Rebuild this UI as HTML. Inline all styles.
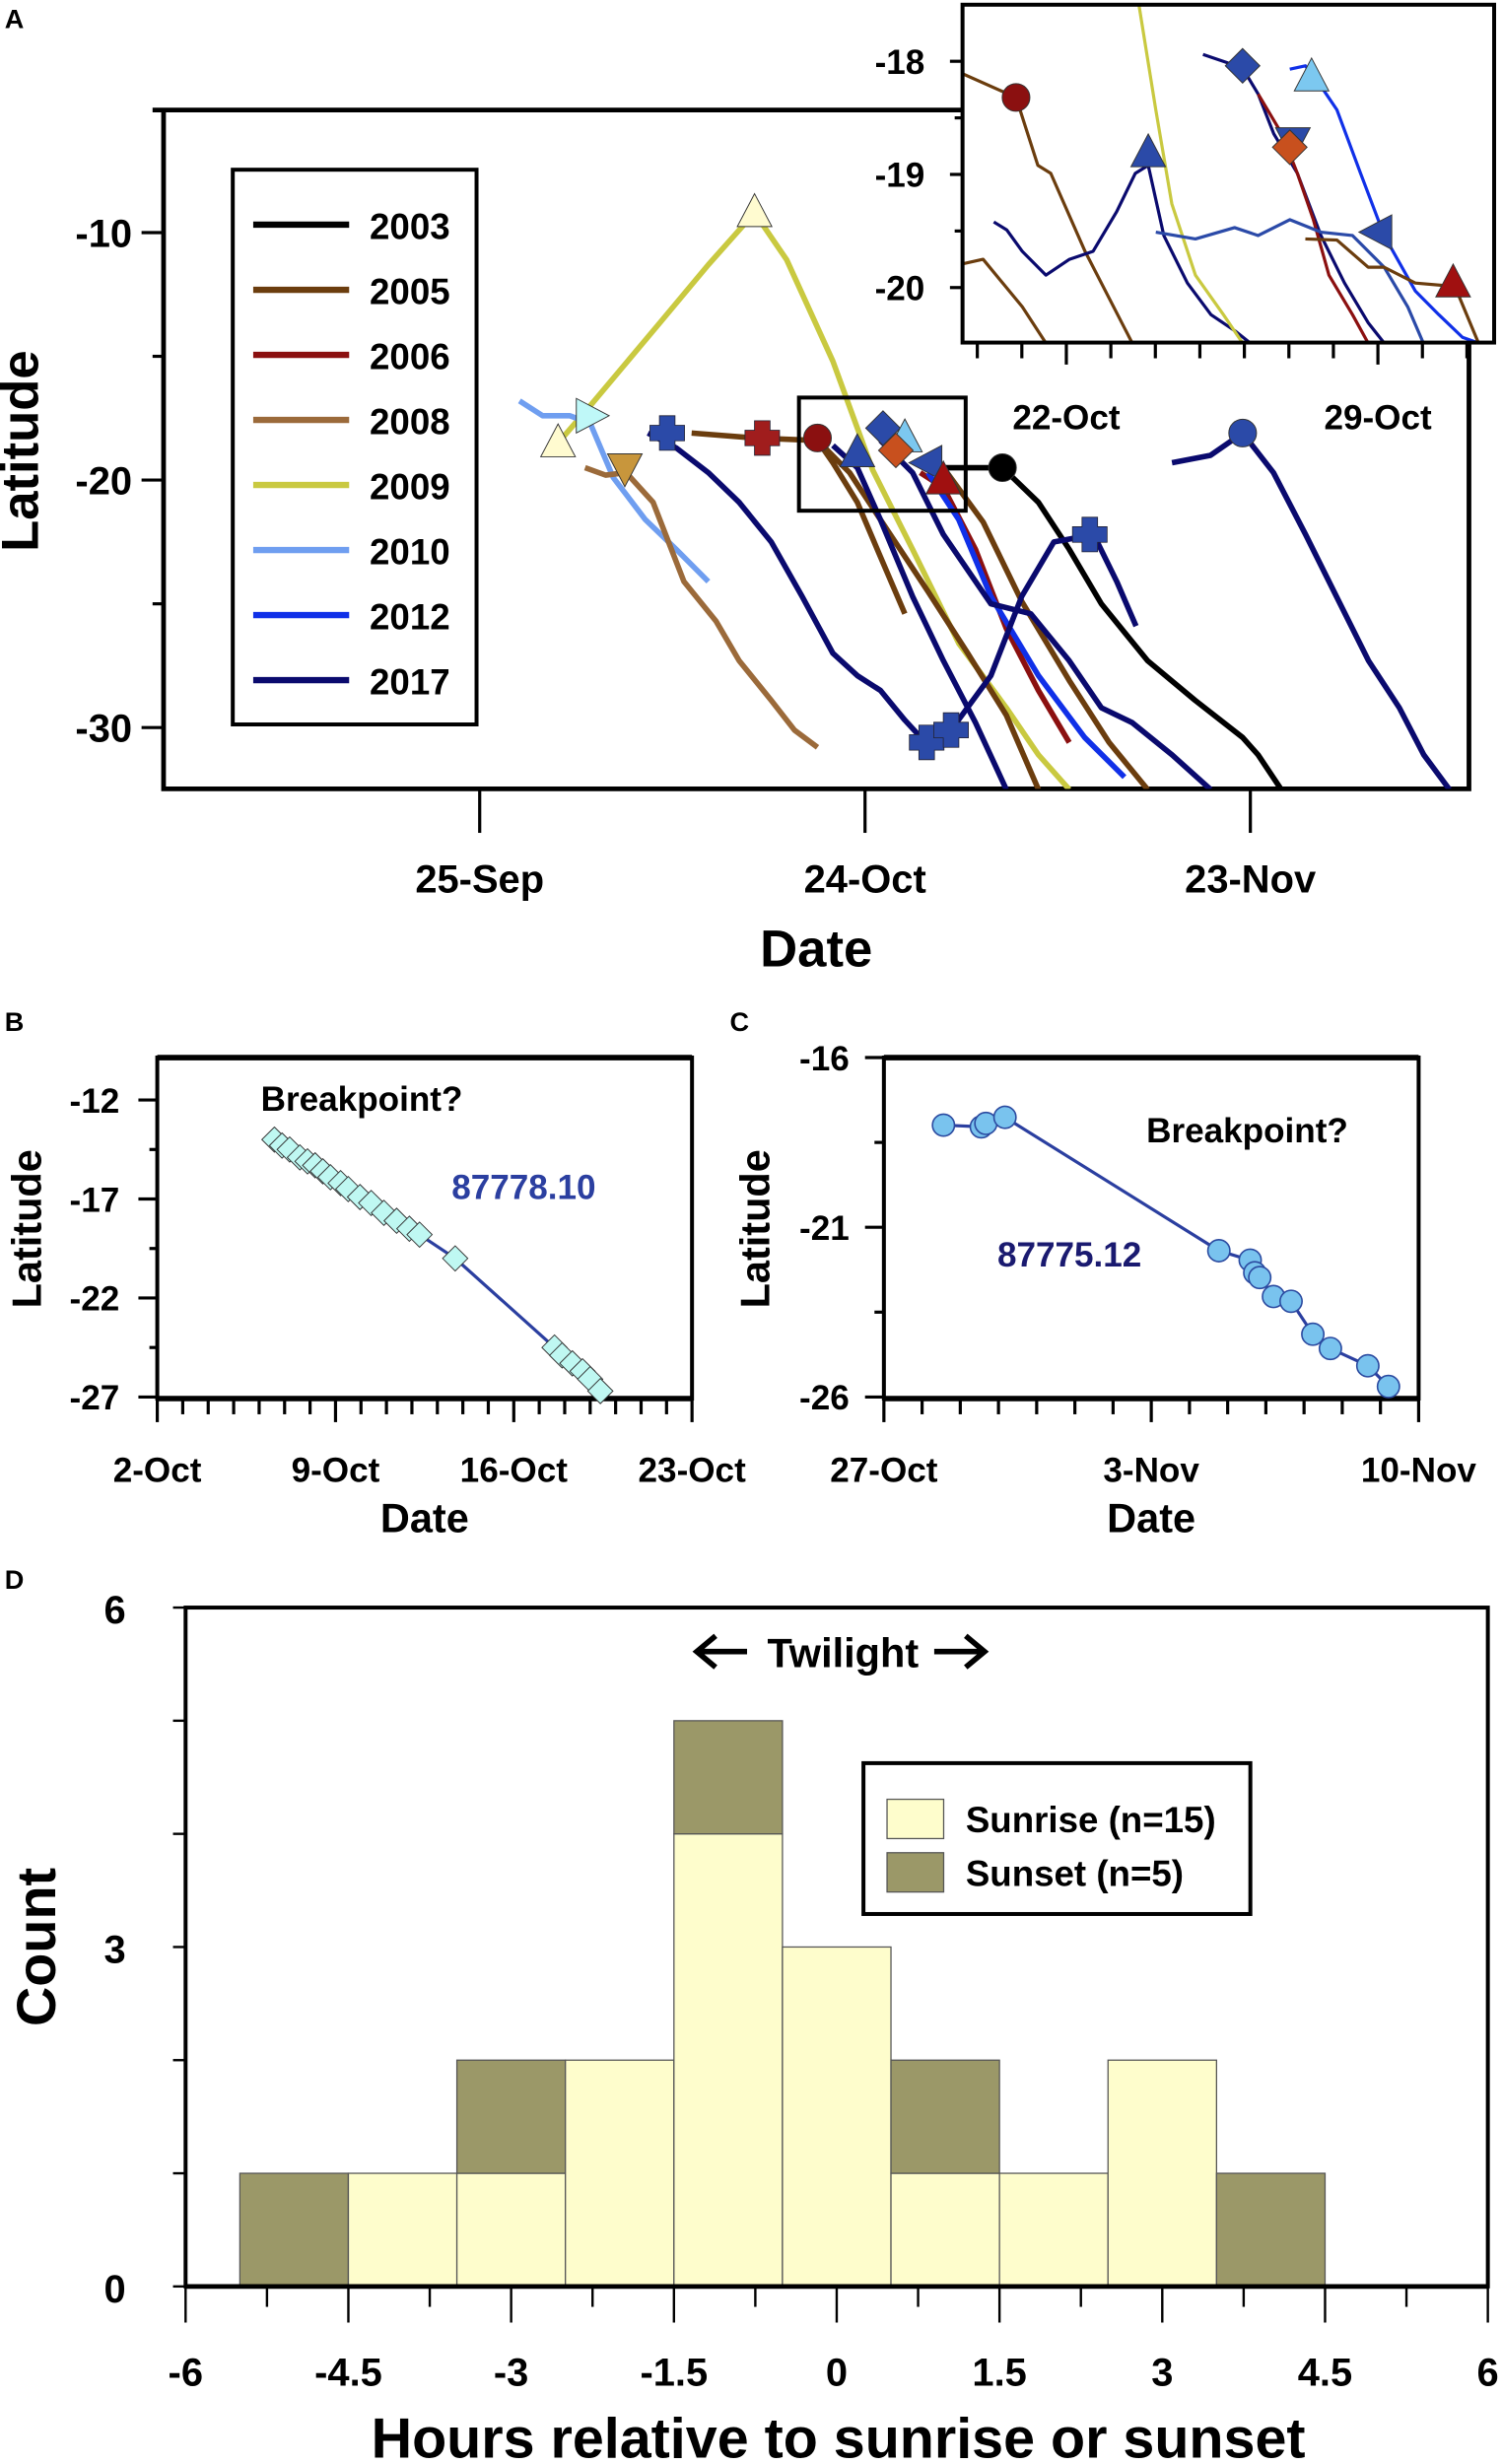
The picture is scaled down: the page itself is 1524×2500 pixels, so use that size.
<!DOCTYPE html>
<html><head><meta charset="utf-8"><style>
html,body{margin:0;padding:0;background:#fff}
svg{display:block}
text{font-family:"Liberation Sans",sans-serif;font-weight:bold;fill:#000}
</style></head><body>
<svg id="s" xmlns="http://www.w3.org/2000/svg" width="1524" height="2500" viewBox="0 0 955 1568" preserveAspectRatio="none">
<defs>
<clipPath id="cpA"><rect x="104" y="70" width="830" height="432"/></clipPath>
<clipPath id="cpI"><rect x="612" y="3" width="338" height="215"/></clipPath>
</defs>
<g id="A"></g>
<g id="B"></g>
<g id="C"></g>
<g id="D"></g>
</svg>
<script>
// ---------- Panel A data (day since 25-Sep, latitude) ----------
const yearNames=["2003","2005","2006","2008","2009","2010","2012","2017"];
const yearColors=["#000000","#6b3d0e","#8b1010","#9b6a3a","#c9c940","#6f9ef0","#1030e8","#0a0a6e"];
const mainTracks=[
 {y:"2009",pts:[[6.1,-18.5],[8.6,-17.0],[14.1,-13.6],[17.8,-11.3],[21.4,-9.2],[23.9,-11.1],[27.5,-15.2],[30.6,-19.6],[33.7,-22.8],[37.3,-26.6],[41.0,-29.2],[43.5,-31.1],[45.9,-32.5]]},
 {y:"2010",pts:[[3.1,-16.8],[4.9,-17.4],[7.0,-17.4],[8.6,-17.7],[10.4,-19.9],[12.9,-21.6],[15.3,-22.8],[17.8,-24.1]]},
 {y:"2008",pts:[[8.2,-19.5],[9.8,-19.8],[11.4,-19.7],[13.5,-20.9],[15.9,-24.1],[18.4,-25.7],[20.2,-27.3],[22.7,-28.9],[24.5,-30.1],[26.3,-30.8]]},
 {y:"2005",pts:[[16.5,-18.1],[21.4,-18.3],[26.3,-18.4],[27.5,-19.3],[29.4,-20.9],[31.2,-23.1],[33.1,-25.4]]},
 {y:"2005",pts:[[26.3,-18.4],[28.8,-19.7],[31.2,-21.6],[34.9,-24.5],[38.0,-27.0],[41.0,-29.5],[43.5,-32.5]]},
 {y:"2005",pts:[[36.1,-19.5],[39.2,-21.7],[42.2,-24.9],[45.9,-28.1],[49.0,-30.6],[52.0,-32.5]]},
 {y:"2006",pts:[[34.3,-19.7],[36.1,-20.3],[38.6,-22.8],[41.0,-26.0],[43.5,-28.5],[45.9,-30.6]]},
 {y:"2012",pts:[[34.9,-19.7],[37.3,-21.6],[39.8,-24.7],[43.5,-27.9],[47.1,-30.4],[50.2,-32.0]]},
 {y:"2003",pts:[[35.5,-19.5],[40.7,-19.5],[43.5,-20.9],[45.9,-22.8],[48.4,-25.0],[52.0,-27.3],[55.7,-28.9],[59.4,-30.4],[60.6,-31.1],[62.4,-32.5]]},
 {y:"2017",pts:[[13.1,-18.1],[15.3,-18.7],[17.8,-19.7],[20.2,-20.9],[22.7,-22.5],[25.1,-24.7],[27.5,-27.0],[29.4,-27.9],[31.2,-28.5],[33.1,-29.7],[34.7,-30.6]]},
 {y:"2017",pts:[[27.5,-18.6],[29.4,-19.5],[31.2,-21.6],[33.7,-24.7],[36.1,-27.3],[38.6,-29.8],[41.0,-32.5]]},
 {y:"2017",pts:[[36.7,-30.1],[39.8,-27.9],[42.2,-24.7],[44.7,-22.5],[47.8,-22.2],[49.6,-24.1],[51.1,-25.9]]},
 {y:"2017",pts:[[31.2,-18.4],[33.7,-19.7],[36.1,-22.2],[39.8,-25.0],[42.9,-25.4],[45.9,-27.3],[48.4,-29.2],[50.8,-29.8],[53.9,-31.1],[56.9,-32.5]]},
 {y:"2017",pts:[[53.9,-19.3],[56.9,-19.0],[59.4,-18.1],[61.8,-19.7],[64.3,-22.2],[66.7,-24.7],[69.2,-27.3],[71.6,-29.2],[73.5,-31.1],[75.5,-32.5]]}
];
const mainMarkers=[
 ["up",6.1,-18.5,"#fffbd0"],["up",21.4,-9.2,"#fffbd0"],["right",8.6,-17.4,"#bff8f8"],["down",11.3,-19.5,"#c8963c"],
 ["cross",14.6,-18.1,"#2b4aa8"],["cross",34.8,-30.6,"#2b4aa8"],["cross",36.7,-30.1,"#2b4aa8"],["cross",47.5,-22.2,"#2b4aa8"],
 ["cross",22.0,-18.3,"#a01d1d"],["circle",26.3,-18.3,"#8b1010"],["up",29.4,-18.9,"#2b4aa8"],["diamond",31.4,-17.9,"#2b4aa8"],
 ["up",33.1,-18.3,"#7cc8f0"],["diamond",32.4,-18.8,"#c8501e"],["left",34.9,-19.3,"#2b4aa8"],["up",36.1,-20.0,"#a01010"],
 ["circle",40.7,-19.5,"#000000"],["circle",59.4,-18.1,"#2b4aa8"]
];
const mainYTicks=[-10,-20,-30];
const mainXTickDays=[0,30,60];
const mainXTickLabels=["25-Sep","24-Oct","23-Nov"];
// inset (days since 22-Oct, latitude)
const insetTracks=[
 {y:"2005",pts:[[-2.33,-18.11],[-1.13,-18.32],[-0.64,-18.92],[-0.35,-18.99],[0.42,-19.68],[1.48,-20.49]]},
 {y:"2005",pts:[[-2.33,-19.79],[-1.87,-19.75],[-0.99,-20.17],[-0.46,-20.49]]},
 {y:"2017",pts:[[-1.63,-19.42],[-1.34,-19.49],[-0.99,-19.68],[-0.46,-19.89],[0.07,-19.75],[0.6,-19.68],[1.13,-19.33],[1.55,-18.99],[1.84,-18.92],[2.19,-19.54],[2.72,-19.96],[3.25,-20.24],[3.78,-20.38],[4.13,-20.49]]},
 {y:"2009",pts:[[1.63,-17.5],[2.01,-18.43],[2.37,-19.26],[2.9,-19.89],[3.53,-20.24],[3.96,-20.49]]},
 {y:"2017",pts:[[3.07,-17.94],[3.6,-18.01],[3.96,-18.06],[4.31,-18.29],[4.66,-18.64],[5.19,-18.99],[5.72,-19.54],[6.25,-19.96],[6.78,-20.31],[7.14,-20.49]]},
 {y:"2006",pts:[[4.31,-18.29],[4.84,-18.64],[5.19,-18.99],[5.55,-19.4],[5.9,-19.89],[6.43,-20.24],[6.78,-20.49]]},
 {y:"2012",pts:[[5.02,-18.07],[5.37,-18.04],[5.72,-18.22],[6.08,-18.43],[6.61,-18.99],[7.14,-19.54],[7.84,-20.03],[8.37,-20.24],[8.9,-20.44],[9.26,-20.49]]},
 {y:"steel",pts:[[2.01,-19.51],[2.9,-19.57],[3.78,-19.47],[4.31,-19.54],[5.02,-19.4],[5.72,-19.51],[6.43,-19.54],[7.14,-19.82],[7.67,-20.17],[8.02,-20.49]]},
 {y:"2005",pts:[[5.37,-19.57],[6.08,-19.58],[6.78,-19.82],[7.14,-19.82],[7.84,-19.96],[8.73,-19.99],[9.26,-20.49]]}
];
const insetMarkers=[
 ["circle",-1.13,-18.32,"#8b1010"],["up",1.84,-18.81,"#2b4aa8"],["diamond",3.96,-18.04,"#2b4aa8"],["up",5.51,-18.14,"#7cc8f0"],
 ["down",5.09,-18.71,"#2b4aa8"],["diamond",5.02,-18.76,"#c8501e"],["left",7.0,-19.51,"#2b4aa8"],["up",8.69,-19.96,"#a01010"]
];
const insetYTicks=[-18,-19,-20];
// Panel B
const bDays=[4.6,4.9,5.2,5.6,5.9,6.2,6.5,6.8,7.2,7.5,7.96,8.4,8.9,9.4,9.9,10.3,11.7,15.6,15.9,16.3,16.7,17.0,17.4];
const bLats=[-14.0,-14.3,-14.5,-14.9,-15.1,-15.3,-15.6,-15.9,-16.2,-16.5,-16.9,-17.2,-17.7,-18.1,-18.5,-18.8,-20.0,-24.5,-24.9,-25.3,-25.7,-26.1,-26.7];
const bYTicks=[-12,-17,-22,-27];
const bXLabels=["2-Oct","9-Oct","16-Oct","23-Oct"];
// Panel C
const cDays=[1.56,2.55,2.67,3.17,8.77,9.59,9.71,9.84,10.2,10.66,11.23,11.69,12.67,13.21];
const cLats=[-17.99,-18.04,-17.94,-17.76,-21.69,-21.97,-22.34,-22.48,-23.04,-23.18,-24.15,-24.57,-25.08,-25.69];
const cYTicks=[-16,-21,-26];
const cXLabels=["27-Oct","3-Nov","10-Nov"];
// Panel D
const binCenters=[-5,-4,-3,-2,-1,0,1,2,3,4];
const sunriseCounts=[0,1,1,2,4,3,1,1,2,0];
const sunsetCounts=[1,0,1,0,1,0,1,0,0,1];
const dXTicks=["-6","-4.5","-3","-1.5","0","1.5","3","4.5","6"];
const dYTicks=[0,3,6];

const NS="http://www.w3.org/2000/svg";
function el(tag,attrs,parent,txt){const e=document.createElementNS(NS,tag);for(const k in attrs)e.setAttribute(k,attrs[k]);if(txt!==undefined)e.textContent=txt;parent.appendChild(e);return e;}
function colorOf(y){if(y==="steel")return "#2b4aa8";return yearColors[yearNames.indexOf(y)];}
function marker(g,t,x,y,s,fill){
 let e;
 if(t==="circle"){e=el("circle",{cx:x,cy:y,r:s*0.8,fill:fill,stroke:"#333","stroke-width":0.6},g);}
 else if(t==="cross"){const w=s*0.45;e=el("path",{d:`M${x-w} ${y-s}h${2*w}v${s-w}h${s-w}v${2*w}h${-(s-w)}v${s-w}h${-2*w}v${-(s-w)}h${-(s-w)}v${-2*w}h${s-w}z`,fill:fill,stroke:"#223","stroke-width":0.5},g);}
 else{let p;
  if(t==="up")p=[[x,y-s*1.1],[x+s,y+s*0.8],[x-s,y+s*0.8]];
  if(t==="down")p=[[x,y+s*1.1],[x+s,y-s*0.8],[x-s,y-s*0.8]];
  if(t==="right")p=[[x+s*1.1,y],[x-s*0.8,y-s],[x-s*0.8,y+s]];
  if(t==="left")p=[[x-s*1.1,y],[x+s*0.8,y-s],[x+s*0.8,y+s]];
  if(t==="diamond")p=[[x,y-s],[x+s,y],[x,y+s],[x-s,y]];
  e=el("polygon",{points:p.map(q=>q.join(",")).join(" "),fill:fill,stroke:"#333","stroke-width":0.6},g);}
 return e;
}
// ---------- Panel A ----------
(function(){
 const g=document.getElementById("A");
 const X=d=>305+d*245/30, Y=l=>148+(-10-l)*15.75;
 el("text",{x:3,y:18,"font-size":17},g,"A");
 const ax=el("g",{},g);
 el("path",{d:"M97 70H934V502H104V70",fill:"none",stroke:"#000","stroke-width":3},ax);
 mainYTicks.forEach(v=>{el("line",{x1:90,x2:104,y1:Y(v),y2:Y(v),stroke:"#000","stroke-width":2},ax);
  const t=el("text",{x:84,y:Y(v)+9,"font-size":25,"text-anchor":"end"},ax,String(v));});
 [-15,-25].forEach(v=>el("line",{x1:97,x2:104,y1:Y(v),y2:Y(v),stroke:"#000","stroke-width":2},ax));
 mainXTickDays.forEach((d,i)=>{el("line",{x1:X(d),x2:X(d),y1:502,y2:530,stroke:"#000","stroke-width":2},ax);
  const t=el("text",{x:X(d),y:568,"font-size":25,"text-anchor":"middle"},ax,mainXTickLabels[i]);});
 const xt=el("text",{x:519,y:615,"font-size":33,"text-anchor":"middle"},g,"Date");
 const yt=el("text",{x:0,y:0,"font-size":33,"text-anchor":"middle",transform:"translate(24,287) rotate(-90)"},g,"Latitude");
 const tg=el("g",{"clip-path":"url(#cpA)"},g);
 mainTracks.forEach(tr=>{const p=el("polyline",{points:tr.pts.map(q=>X(q[0])+","+Y(q[1])).join(" "),fill:"none",stroke:colorOf(tr.y),"stroke-width":3.5,"stroke-linejoin":"round"},tg);
  });
 mainMarkers.forEach(m=>{const e=marker(g,m[0],X(m[1]),Y(m[2]),11,m[3]);});
 const zb=el("rect",{x:508,y:253,width:106,height:72,fill:"none",stroke:"#000","stroke-width":2.5},g);
 const lg=el("g",{},g);
 el("rect",{x:148,y:108,width:155,height:353,fill:"#fff",stroke:"#000","stroke-width":2.5},lg);
 yearNames.forEach((n,i)=>{const yy=143+i*41.4;const e=el("g",{},lg);
  el("line",{x1:161,x2:222,y1:yy,y2:yy,stroke:yearColors[i],"stroke-width":4},e);
  el("text",{x:235,y:yy+9,"font-size":23},e,n);});
 const ig=el("g",{},g);
 const IX=d=>678+d*28.3, IY=l=>39+(-18-l)*72;
 el("rect",{x:612,y:3,width:338,height:215,fill:"#fff",stroke:"none"},ig);
 const ic=el("g",{"clip-path":"url(#cpI)"},ig);
 insetTracks.forEach(tr=>{const p=el("polyline",{points:tr.pts.map(q=>IX(q[0])+","+IY(q[1])).join(" "),fill:"none",stroke:colorOf(tr.y),"stroke-width":2,"stroke-linejoin":"round"},ic);
  });
 insetMarkers.forEach(m=>{const e=marker(ig,m[0],IX(m[1]),IY(m[2]),11,m[3]);});
 el("rect",{x:612,y:3,width:338,height:215,fill:"none",stroke:"#000","stroke-width":2.5},ig);
 insetYTicks.forEach(v=>{el("line",{x1:604,x2:612,y1:IY(v),y2:IY(v),stroke:"#000","stroke-width":2},ig);
  el("text",{x:588,y:IY(v)+8,"font-size":22,"text-anchor":"end"},ig,String(v));});
 [-18.5,-19.5].forEach(v=>el("line",{x1:607,x2:612,y1:IY(v),y2:IY(v),stroke:"#000","stroke-width":2},ig));
 for(let d=-2;d<=9;d++){const big=(d===0||d===7);el("line",{x1:IX(d),x2:IX(d),y1:218,y2:big?232:228,stroke:"#000","stroke-width":2},ig);}
 el("text",{x:IX(0),y:273,"font-size":22,"text-anchor":"middle"},ig,"22-Oct");
 el("text",{x:IX(7),y:273,"font-size":22,"text-anchor":"middle"},ig,"29-Oct");
})();
// ---------- Panel B ----------
(function(){
 const g=document.getElementById("B");
 const X=d=>100+d*340/21, Y=l=>700+(-12-l)*12.6;
 el("text",{x:3,y:656,"font-size":17},g,"B");
 el("path",{d:"M100 673H440V890H100Z",fill:"none",stroke:"#000","stroke-width":2.5},g);
 el("line",{x1:100,x2:440,y1:673,y2:673,stroke:"#000","stroke-width":3.5},g);
 el("line",{x1:100,x2:440,y1:890,y2:890,stroke:"#000","stroke-width":3.5},g);
 bYTicks.forEach(v=>{el("line",{x1:88,x2:100,y1:Y(v),y2:Y(v),stroke:"#000","stroke-width":2},g);
  el("text",{x:76,y:Y(v)+8,"font-size":22,"text-anchor":"end"},g,String(v));});
 [-14.5,-19.5,-24.5].forEach(v=>el("line",{x1:95,x2:100,y1:Y(v),y2:Y(v),stroke:"#000","stroke-width":2},g));
 for(let d=0;d<=21;d++){const big=d%7===0;el("line",{x1:X(d),x2:X(d),y1:890,y2:big?905:900,stroke:"#000","stroke-width":2},g);}
 bXLabels.forEach((s,i)=>el("text",{x:X(i*7),y:943,"font-size":22,"text-anchor":"middle"},g,s));
 el("text",{x:270,y:975,"font-size":26,"text-anchor":"middle"},g,"Date");
 el("text",{x:0,y:0,"font-size":26,"text-anchor":"middle",transform:"translate(26,782) rotate(-90)"},g,"Latitude");
 const ln=el("polyline",{points:bDays.map((d,i)=>X(d)+","+Y(bLats[i])).join(" "),fill:"none",stroke:"#2b3fa0","stroke-width":2},g);
 
 bDays.forEach((d,i)=>{const e=marker(g,"diamond",X(d),Y(bLats[i]),8,"#bff8f2");});
 el("text",{x:230,y:707,"font-size":22,"text-anchor":"middle"},g,"Breakpoint?");
 const lb=el("text",{x:333,y:763,"font-size":22,"text-anchor":"middle",style:"fill:#2b3fa0"},g,"87778.10");
})();
// ---------- Panel C ----------
(function(){
 const g=document.getElementById("C");
 const X=d=>562+d*340/14, Y=l=>673+(-16-l)*21.6;
 el("text",{x:464,y:656,"font-size":17},g,"C");
 el("path",{d:"M562 673H902V890H562Z",fill:"none",stroke:"#000","stroke-width":2.5},g);
 el("line",{x1:562,x2:902,y1:673,y2:673,stroke:"#000","stroke-width":3.5},g);
 el("line",{x1:562,x2:902,y1:890,y2:890,stroke:"#000","stroke-width":3.5},g);
 cYTicks.forEach(v=>{el("line",{x1:550,x2:562,y1:Y(v),y2:Y(v),stroke:"#000","stroke-width":2},g);
  el("text",{x:540,y:Y(v)+8,"font-size":22,"text-anchor":"end"},g,String(v));});
 [-18.5,-23.5].forEach(v=>el("line",{x1:556,x2:562,y1:Y(v),y2:Y(v),stroke:"#000","stroke-width":2},g));
 for(let d=0;d<=14;d++){const big=d%7===0;el("line",{x1:X(d),x2:X(d),y1:890,y2:big?905:900,stroke:"#000","stroke-width":2},g);}
 cXLabels.forEach((s,i)=>el("text",{x:X(i*7),y:943,"font-size":22,"text-anchor":"middle"},g,s));
 el("text",{x:732,y:975,"font-size":26,"text-anchor":"middle"},g,"Date");
 el("text",{x:0,y:0,"font-size":26,"text-anchor":"middle",transform:"translate(489,782) rotate(-90)"},g,"Latitude");
 const ln=el("polyline",{points:cDays.map((d,i)=>X(d)+","+Y(cLats[i])).join(" "),fill:"none",stroke:"#2b3fa0","stroke-width":2},g);
 
 cDays.forEach((d,i)=>{const e=el("circle",{cx:X(d),cy:Y(cLats[i]),r:7,fill:"#79c3ee",stroke:"#2b4aa0","stroke-width":1},g);});
 el("text",{x:793,y:727,"font-size":22,"text-anchor":"middle"},g,"Breakpoint?");
 const lb=el("text",{x:680,y:806,"font-size":22,"text-anchor":"middle",style:"fill:#1a1a70"},g,"87775.12");
})();
// ---------- Panel D ----------
(function(){
 const g=document.getElementById("D");
 const X=h=>118+(h+6)*69, Y=c=>1455-c*72;
 el("text",{x:3,y:1011,"font-size":17},g,"D");
 binCenters.forEach((c,i)=>{
  if(sunriseCounts[i]>0){const r=el("rect",{x:X(c-0.5),y:Y(sunriseCounts[i]),width:69,height:sunriseCounts[i]*72,fill:"#fefdcc",stroke:"#555","stroke-width":0.8},g);
   }
  if(sunsetCounts[i]>0){const r=el("rect",{x:X(c-0.5),y:Y(sunriseCounts[i]+sunsetCounts[i]),width:69,height:sunsetCounts[i]*72,fill:"#9b9868",stroke:"#555","stroke-width":0.8},g);
   }
 });
 el("rect",{x:118,y:1023,width:828,height:432,fill:"none",stroke:"#000","stroke-width":2.5},g);
 el("line",{x1:118,x2:946,y1:1455,y2:1455,stroke:"#000","stroke-width":3},g);
 for(let k=0;k<=6;k++){el("line",{x1:110,x2:118,y1:Y(k),y2:Y(k),stroke:"#000","stroke-width":1.5},g);}
 dYTicks.forEach(v=>el("text",{x:80,y:Y(v)+10,"font-size":25,"text-anchor":"end"},g,String(v)));
 for(let k=0;k<=16;k++){const h=-6+k*0.75;const big=k%2===0;el("line",{x1:X(h),x2:X(h),y1:1455,y2:big?1478:1468,stroke:"#000","stroke-width":1.5},g);}
 dXTicks.forEach(s=>el("text",{x:X(parseFloat(s)),y:1518,"font-size":25,"text-anchor":"middle"},g,s));
 const xt=el("text",{x:533,y:1564,"font-size":36,"text-anchor":"middle"},g,"Hours relative to sunrise or sunset");
 const yt=el("text",{x:0,y:0,"font-size":35,"text-anchor":"middle",transform:"translate(35,1239) rotate(-90)"},g,"Count");
 const tw=el("g",{},g);
 el("text",{x:536,y:1061,"font-size":26,"text-anchor":"middle"},tw,"Twilight");
 el("path",{d:"M443 1051H475M455 1041L443 1051L455 1061",fill:"none",stroke:"#000","stroke-width":3.5},tw);
 el("path",{d:"M594 1051H626M614 1041L626 1051L614 1061",fill:"none",stroke:"#000","stroke-width":3.5},tw);
 const lg=el("g",{},g);
 el("rect",{x:549,y:1122,width:246,height:96,fill:"#fff",stroke:"#000","stroke-width":2.5},lg);
 el("rect",{x:564,y:1145,width:36,height:25,fill:"#fefdcc",stroke:"#555","stroke-width":0.8},lg);
 el("rect",{x:564,y:1179,width:36,height:25,fill:"#9b9868",stroke:"#555","stroke-width":0.8},lg);
 el("text",{x:614,y:1166,"font-size":23},lg,"Sunrise (n=15)");
 el("text",{x:614,y:1200,"font-size":23},lg,"Sunset (n=5)");
})();
</script>
</body></html>
